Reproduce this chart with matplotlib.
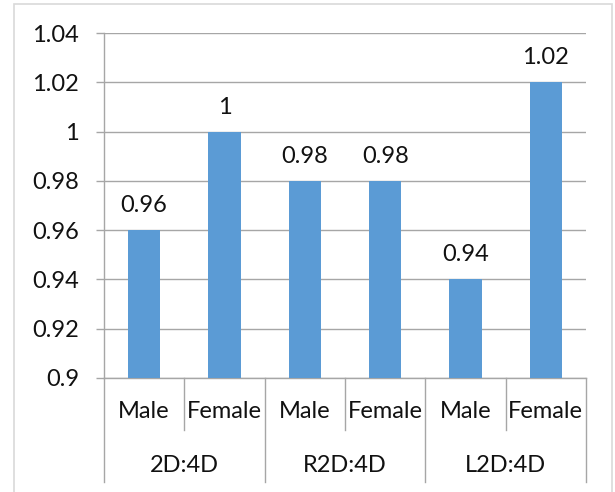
import matplotlib
matplotlib.use("Agg")
import matplotlib.pyplot as plt
from matplotlib.lines import Line2D
from matplotlib.patches import Rectangle

groups = ["2D:4D", "R2D:4D", "L2D:4D"]
sexes = ["Male", "Female"]
values = [0.96, 1.00, 0.98, 0.98, 0.94, 1.02]
value_labels = ["0.96", "1", "0.98", "0.98", "0.94", "1.02"]
yticks = [0.9, 0.92, 0.94, 0.96, 0.98, 1.0, 1.02, 1.04]
ytick_labels = ["0.9", "0.92", "0.94", "0.96", "0.98", "1", "1.02", "1.04"]

plt.rcParams['font.family'] = ['Lato', 'DejaVu Sans']
FS = 17
DPI = 100
px = 72.0 / DPI
grid_c = "#A6A6A6"
bar_c = "#5B9BD5"
text_c = "#111111"

fig = plt.figure(figsize=(6.15, 4.92), dpi=DPI)
W, H = 615, 492
fig.patches.append(Rectangle((14 / W, -0.1), (612 - 14) / W, 1.1 - 4 / H,
                             transform=fig.transFigure, fill=False,
                             edgecolor="#D9D9D9", linewidth=1.2))
ax = fig.add_axes([104 / W, 1 - 378 / H, (586 - 104) / W, (378 - 33) / H])

x = list(range(len(values)))
ax.bar(x, values, width=0.4, color=bar_c, zorder=3)
ax.set_xlim(-0.5, len(values) - 0.5)
ax.set_ylim(0.9, 1.04)
ax.set_yticks(yticks)
ax.set_yticklabels(ytick_labels, fontsize=FS, color=text_c)
ax.tick_params(axis='y', length=8 * px, width=1, color=grid_c, pad=17 * px)
ax.set_xticks([])
ax.yaxis.grid(True, color=grid_c, linewidth=1, zorder=0)
for s in ["top", "right"]:
    ax.spines[s].set_visible(False)
for s in ["left", "bottom"]:
    ax.spines[s].set_color(grid_c)
    ax.spines[s].set_linewidth(1)

for xi, v, lab in zip(x, values, value_labels):
    ax.annotate(lab, (xi, v), xytext=(0, 18 * px), textcoords="offset points",
                ha="center", va="baseline", fontsize=FS, color=text_c)

ah = 378 - 33
tr = ax.get_xaxis_transform()
for i, xi in enumerate(x):
    ax.text(xi, -(412 - 378) / ah, sexes[i % 2], transform=tr, ha="center",
            va="center", fontsize=FS, color=text_c)
for g, name in enumerate(groups):
    ax.text(2 * g + 0.5, -(465 - 378) / ah, name, transform=tr, ha="center",
            va="center", fontsize=FS, color=text_c)
# separators
for b in range(len(values) + 1):
    xb = b - 0.5
    y_end = -(482 - 378) / ah if b % 2 == 0 else -(430 - 378) / ah
    ax.add_line(Line2D([xb, xb], [0, y_end], transform=tr, color=grid_c,
                       linewidth=1, clip_on=False))

fig.savefig("out.png", dpi=DPI)
